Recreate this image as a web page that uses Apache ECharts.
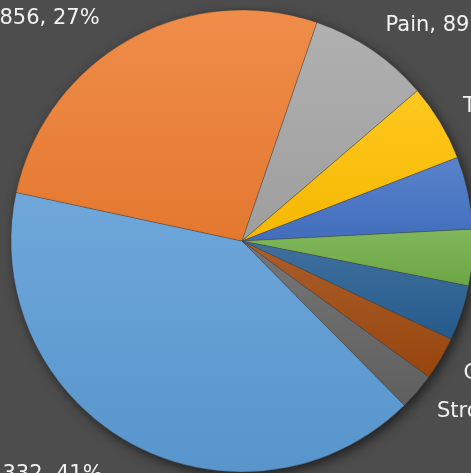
<!DOCTYPE html>
<html>
<head>
<meta charset="utf-8">
<style>
  html, body { margin: 0; padding: 0; width: 471px; height: 473px; overflow: hidden; background: #4d4d4d; }
  #chart { position: absolute; left: -208px; top: -209px; width: 900px; height: 900px; }
</style>
<script src="https://cdn.jsdelivr.net/npm/echarts@6/dist/echarts.min.js"></script>
</head>
<body>
<div id="chart"></div>
<script>
var names = ['Fever', 'Cough', 'Pain', 'Trauma', 'Headache', 'Nausea', 'Dizziness', 'Cardiac', 'Stroke'];
var values = [4332, 2856, 899, 572, 539, 418, 412, 320, 273];
var colors = ['#5B9BD5', '#ED7D31', '#A5A5A5', '#FFC000', '#4472C4', '#70AD47', '#255E91', '#9E480E', '#636363'];

function mix(hex, target, t) {
  var c = parseInt(hex.slice(1), 16);
  var r = (c >> 16) & 255, g = (c >> 8) & 255, b = c & 255;
  r = Math.round(r + (target - r) * t);
  g = Math.round(g + (target - g) * t);
  b = Math.round(b + (target - b) * t);
  return 'rgb(' + r + ',' + g + ',' + b + ')';
}

var pieData = names.map(function (n, i) {
  return {
    name: n,
    value: values[i],
    itemStyle: {
      color: new echarts.graphic.LinearGradient(0, 0, 0, 1, [
        { offset: 0, color: mix(colors[i], 255, 0.12) },
        { offset: 1, color: mix(colors[i], 0, 0.04) }
      ])
    }
  };
});

var chart = echarts.init(document.getElementById('chart'));
chart.setOption({
  backgroundColor: '#4d4d4d',
  animation: false,
  series: [
    {
      // shadow layer under the pie
      type: 'pie',
      silent: true,
      z: 1,
      center: ['50%', '50%'],
      radius: 231,
      startAngle: -45.3,
      label: { show: false },
      labelLine: { show: false },
      itemStyle: {
        color: '#3a3a3a',
        shadowBlur: 12,
        shadowOffsetX: 3,
        shadowOffsetY: 4,
        shadowColor: 'rgba(0,0,0,0.6)'
      },
      data: values.slice()
    },
    {
      type: 'pie',
      z: 2,
      center: ['50%', '50%'],
      radius: 231,
      startAngle: -45.3,
      avoidLabelOverlap: false,
      percentPrecision: 0,
      itemStyle: {
        borderColor: 'rgba(60,60,60,0.6)',
        borderWidth: 0.6
      },
      label: {
        show: true,
        position: 'outside',
        formatter: '{b}, {c}, {d}%',
        color: '#f2f2f2',
        fontSize: 21,
        fontFamily: 'DejaVu Sans, sans-serif',
        distanceToLabelLine: -6,
        overflow: 'none'
      },
      labelLine: { show: false, length: 30, length2: 0 },
      labelLayout: function (p) {
        // excel puts the left-hand labels a bit further out
        return p.align === 'right' ? { dx: -20, dy: 5 } : { dx: 3, dy: 0 };
      },
      data: pieData
    }
  ]
});
</script>
</body>
</html>
